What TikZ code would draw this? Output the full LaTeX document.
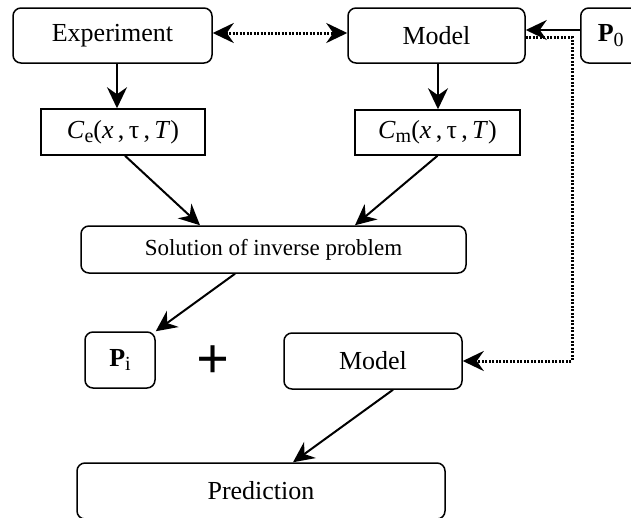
\documentclass[tikz,border=0pt]{standalone}
\usepackage{fontspec}
\setmainfont{Liberation Serif}
\usetikzlibrary{arrows.meta}
\newcommand{\sbs}[1]{\raisebox{-0.35ex}{\fontsize{20}{20}\selectfont #1}}
\begin{document}
\begin{tikzpicture}[x=1pt,y=-1pt,
  box/.style={draw, line width=1.5pt, rounded corners=8pt, inner sep=0pt,
    font=\fontsize{26}{29}\selectfont},
  sqbox/.style={box, rounded corners=0pt},
  arr/.style={line width=2pt, -{Stealth[length=21pt,width=20pt,inset=7pt]}},
  dotarr/.style={line width=3pt, dash pattern=on 2pt off 1.5pt,
    -{Stealth[length=21pt,width=20pt,inset=7pt]}},
  dotboth/.style={line width=3pt, dash pattern=on 2pt off 1.5pt,
    {Stealth[length=21pt,width=20pt,inset=7pt]}-{Stealth[length=21pt,width=20pt,inset=7pt]}}]
\useasboundingbox (0,0) rectangle (631,517);
\clip (0,0) rectangle (631,517);
\node[box, minimum width=199pt, minimum height=55pt] (exp) at (112.5,35.5) {Experiment};
\node[box, minimum width=177pt, minimum height=55pt] (modelT) at (436.5,35.5) {Model};
\node[box, anchor=west, minimum height=55pt, inner xsep=17pt, text width=60pt] (p0) at (580,35.5) {\textbf{P}\sbs{0}};
\node[sqbox, minimum width=164pt, minimum height=46pt] (ce) at (123,132) {\textit{C}\sbs{e}(\textit{x}\,,\,τ\,,\,\textit{T})};
\node[sqbox, minimum width=165pt, minimum height=45pt] (cm) at (437.5,132.5) {\textit{C}\sbs{m}(\textit{x}\,,\,τ\,,\,\textit{T})};
\node[box, minimum width=385pt, minimum height=47pt, font=\fontsize{23}{26}\selectfont] (sol) at (273.5,249.5) {Solution of inverse problem};
\node[box, minimum width=70pt, minimum height=56pt] (pi) at (120,360) {\textbf{P}\sbs{i}};
\node[inner sep=0pt, font=\fontsize{58}{58}\selectfont\bfseries] (plus) at (213,362) {+};
\node[box, minimum width=178pt, minimum height=56pt] (modelB) at (373,361) {Model};
\node[box, minimum width=368pt, minimum height=56pt] (pred) at (261,491) {Prediction};
\coordinate (turn) at (572,37);
\draw[arr] ([xshift=4.5pt]exp.south) -- ([xshift=4.5pt]exp.south |- ce.north);
\draw[arr] ([xshift=1.5pt]modelT.south) -- ([xshift=1.5pt]modelT.south |- cm.north);
\draw[arr] ([xshift=2pt]ce.south) -- ([xshift=-73.5pt]sol.north);
\draw[arr] (cm.south) -- ([xshift=81.5pt]sol.north);
\draw[arr] ([xshift=-38.5pt]sol.south) -- (pi.north east);
\draw[arr] ([xshift=20pt]modelB.south) -- ([xshift=32pt]pred.north);
\draw[dotboth] ([yshift=2.5pt]exp.east) -- ([yshift=2.5pt]modelT.west);
\draw[dotarr] ([yshift=-1.5pt]modelT.east) -- (turn) |- (modelB.east);
\draw[arr] ([yshift=5.5pt]p0.west) -- ([yshift=5.5pt]modelT.east);
\end{tikzpicture}
\end{document}
